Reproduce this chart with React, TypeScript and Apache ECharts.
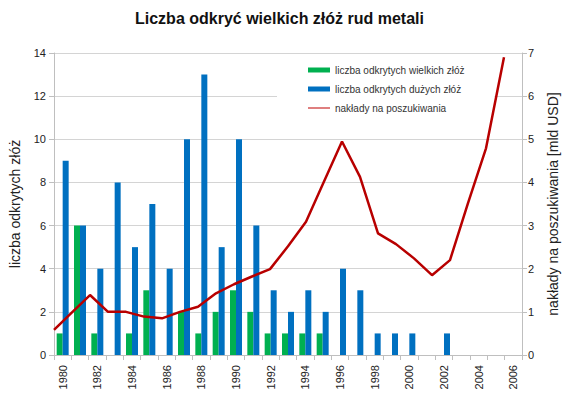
import React, { useEffect, useRef } from 'react';
import * as echarts from 'echarts';

const years = [
  '1980', '1981', '1982', '1983', '1984', '1985', '1986', '1987', '1988',
  '1989', '1990', '1991', '1992', '1993', '1994', '1995', '1996', '1997',
  '1998', '1999', '2000', '2001', '2002', '2003', '2004', '2005', '2006',
];

// liczba odkrytych wielkich złóż
const bigDeposits = [1, 6, 1, 0, 1, 3, 0, 2, 1, 2, 3, 2, 1, 1, 1, 1, 0, 0, 0, 0, 0, 0, 0, 0, 0, 0, 0];
// liczba odkrytych dużych złóż
const largeDeposits = [9, 6, 4, 8, 5, 7, 4, 10, 13, 5, 10, 6, 3, 2, 3, 2, 4, 3, 1, 1, 1, 0, 1, 0, 0, 0, 0];
// nakłady na poszukiwania [mld USD]
const spending = [
  0.58, 0.99, 1.39, 1.0, 1.0, 0.89, 0.85, 1.0, 1.12, 1.43, 1.64, 1.82, 1.99,
  2.52, 3.09, 4.02, 4.95, 4.13, 2.82, 2.57, 2.24, 1.85, 2.2, 3.52, 4.79, 6.9, null,
];

const FONT = 'Liberation Sans, Arial, sans-serif';

// thin line icon, bounding box kept at 22x5 so it is not stretched
const LINE_ICON = 'path://M0,0L0.01,0L0.01,0.01ZM0,2L22,2L22,3L0,3ZM21.99,4.99L22,4.99L22,5Z';

const App: React.FC = () => {
  const chartRef = useRef<HTMLDivElement>(null);

  useEffect(() => {
    if (!chartRef.current) return;
    document.body.style.margin = '0';
    const chart = echarts.init(chartRef.current, undefined, { renderer: 'svg' });

    chart.setOption({
      animation: false,
      textStyle: { fontFamily: FONT },
      title: {
        text: 'Liczba odkryć wielkich złóż rud metali',
        left: 130,
        top: 5,
        textStyle: { fontFamily: FONT, fontSize: 16, fontWeight: 'bold', color: '#111' },
      },
      legend: {
        orient: 'vertical',
        left: 277,
        top: 58,
        padding: [6, 30, 6, 31],
        backgroundColor: '#fff',
        itemWidth: 22,
        itemHeight: 5,
        itemGap: 7,
        textStyle: { fontFamily: FONT, fontSize: 10, color: '#333', lineHeight: 12 },
        data: [
          { name: 'liczba odkrytych wielkich złóż', icon: 'rect' },
          { name: 'liczba odkrytych dużych złóż', icon: 'rect' },
          { name: 'nakłady na poszukiwania', icon: LINE_ICON },
        ],
      },
      grid: { left: 52, right: 48, top: 53, bottom: 60 },
      xAxis: [
        {
          type: 'category',
          data: years,
          axisLine: { lineStyle: { color: '#bfbfbf' } },
          axisTick: { show: true, interval: 0, length: 5, lineStyle: { color: '#bfbfbf' } },
          axisLabel: {
            interval: 1,
            rotate: 90,
            margin: 10,
            fontSize: 11,
            color: '#222',
            fontFamily: FONT,
          },
        },
        {
          type: 'category',
          data: years,
          boundaryGap: false,
          show: false,
        },
      ],
      yAxis: [
        {
          type: 'value',
          min: 0,
          max: 14,
          interval: 2,
          name: 'liczba odkrytych złóż',
          nameLocation: 'middle',
          nameGap: 32,
          nameTextStyle: { fontFamily: FONT, fontSize: 14, color: '#222' },
          axisLine: { show: true, lineStyle: { color: '#bfbfbf' } },
          axisTick: { show: true, length: 5, lineStyle: { color: '#bfbfbf' } },
          axisLabel: { fontSize: 11, color: '#222', margin: 8, fontFamily: FONT },
          splitLine: { lineStyle: { color: '#d4d4d4' } },
        },
        {
          type: 'value',
          min: 0,
          max: 7,
          interval: 1,
          position: 'right',
          name: 'nakłady na poszukiwania [mld USD]',
          nameLocation: 'middle',
          nameGap: 24,
          nameRotate: 90,
          nameTextStyle: { fontFamily: FONT, fontSize: 14, color: '#222' },
          axisLine: { show: true, lineStyle: { color: '#bfbfbf' } },
          axisTick: { show: true, length: 5, lineStyle: { color: '#bfbfbf' } },
          axisLabel: { fontSize: 11, color: '#222', margin: 6, fontFamily: FONT },
          splitLine: { show: false },
        },
      ],
      series: [
        {
          name: 'liczba odkrytych wielkich złóż',
          type: 'bar',
          data: bigDeposits,
          barWidth: 6,
          barGap: '0%',
          itemStyle: { color: '#00b050' },
        },
        {
          name: 'liczba odkrytych dużych złóż',
          type: 'bar',
          data: largeDeposits,
          barWidth: 6,
          itemStyle: { color: '#0070c0' },
        },
        {
          name: 'nakłady na poszukiwania',
          type: 'line',
          xAxisIndex: 1,
          yAxisIndex: 1,
          data: spending,
          symbol: 'none',
          itemStyle: { color: '#c00000' },
          lineStyle: { color: '#b80000', width: 2.5 },
          z: 5,
        },
      ],
    });

    return () => {
      chart.dispose();
    };
  }, []);

  return <div ref={chartRef} style={{ width: 570, height: 415 }}></div>;
};

export default App;
